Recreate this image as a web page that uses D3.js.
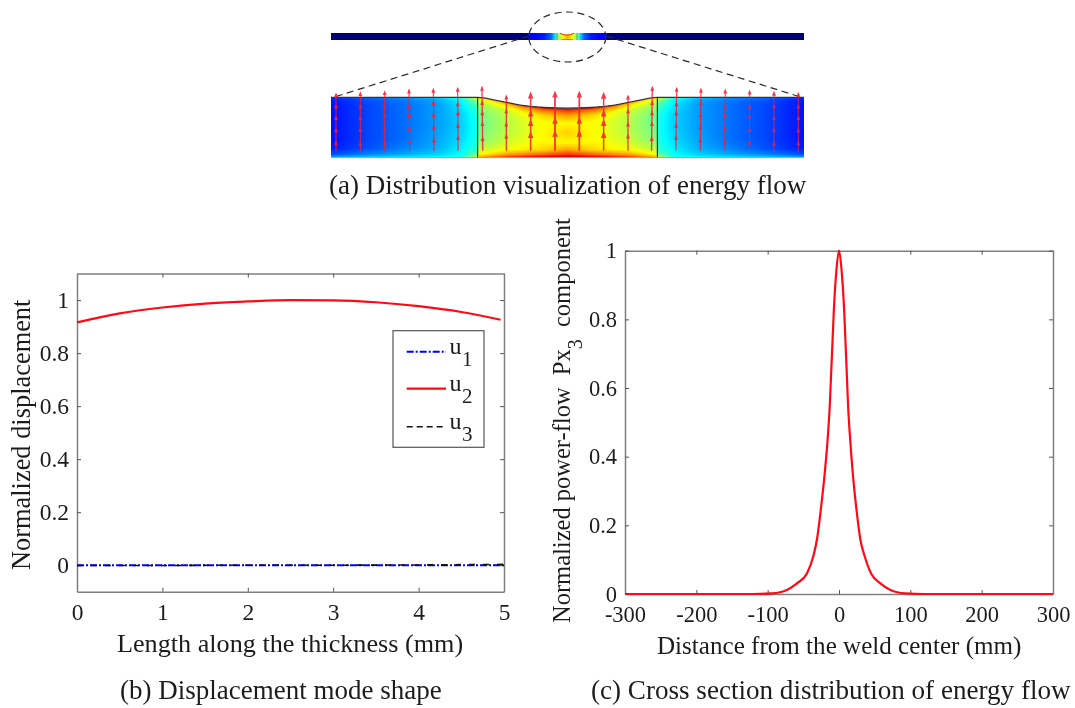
<!DOCTYPE html>
<html><head><meta charset="utf-8">
<script src="https://cdnjs.cloudflare.com/ajax/libs/d3/7.8.5/d3.min.js"></script>
<style>
html,body{margin:0;padding:0;background:#fff;overflow:hidden}
svg{display:block;filter:blur(0.45px)}
text{font-family:"Liberation Serif","Times New Roman",serif;fill:#1c1c1c;white-space:pre}
</style></head><body>
<svg id="c" width="1075" height="708"></svg>
<script>
// ---------- panel (a) data ----------
const captionA = "(a) Distribution visualization of energy flow";
const captionB = "(b) Displacement mode shape";
const captionC = "(c) Cross section distribution of energy flow";
// along-plate position of field columns (-1 .. 1) and thickness rows (1 = top, 0 = bottom)
const fieldCols = [-1,-0.85,-0.7,-0.55,-0.45,-0.385,-0.375,-0.25,-0.12,0,0.12,0.25,0.375,0.385,0.45,0.55,0.7,0.85,1];
const fieldRows = [1,0.95,0.85,0.7,0.5,0.3,0.15,0.05,0];
const fieldVals = [
 [.17,.15,.14,.14,.14,.14,.15,.20,.30],
 [.23,.20,.19,.19,.19,.19,.20,.25,.34],
 [.27,.24,.23,.23,.23,.23,.25,.29,.36],
 [.33,.29,.28,.28,.28,.29,.30,.33,.38],
 [.42,.37,.35,.33,.33,.34,.36,.38,.42],
 [.62,.50,.44,.40,.39,.40,.42,.46,.58],
 [.65,.58,.52,.48,.48,.50,.55,.62,.72],
 [.74,.66,.58,.56,.56,.58,.62,.72,.85],
 [.88,.76,.66,.62,.62,.63,.66,.78,.92],
 [.96,.82,.72,.63,.67,.63,.72,.84,.96],
 [.88,.76,.66,.62,.62,.63,.66,.78,.92],
 [.74,.66,.58,.56,.56,.58,.62,.72,.85],
 [.65,.58,.52,.48,.48,.50,.55,.62,.72],
 [.62,.50,.44,.40,.39,.40,.42,.46,.58],
 [.42,.37,.35,.33,.33,.34,.36,.38,.42],
 [.33,.29,.28,.28,.28,.29,.30,.33,.38],
 [.27,.24,.23,.23,.23,.23,.25,.29,.36],
 [.23,.20,.19,.19,.19,.19,.20,.25,.34],
 [.17,.15,.14,.14,.14,.14,.15,.20,.30]];
const surfaceU = [-1,-0.38,-0.29,-0.2,-0.1,0,0.1,0.2,0.29,0.38,1];
const surfaceT = [1,1,0.94,0.87,0.83,0.82,0.83,0.87,0.94,1,1];
const weldEdges = [-0.38,0.38];
const arrowIdx  = d3.range(20);
const arrowTop  = [1.056,1.078,1.094,1.122,1.133,1.15,1.167,1.022,1.05,1.067,1.067,1.044,1.022,1.167,1.15,1.133,1.122,1.106,1.083,1.067];
const arrowBase = [.094,.094,.094,.105,.105,.11,.11,.11,.11,.11,.11,.11,.11,.11,.11,.11,.11,.094,.094,.094];
const arrowLean = [0,0,0,.03,.03,.02,.03,0,0,0,0,0,0,-.03,-.03,-.03,-.02,-.01,0,0];
const arrowWide = [1,1,1,1.1,1.1,1.1,1.3,1.3,1.5,1.8,1.8,1.5,1.3,1.3,1.1,1.1,1,1,1,1];
const arrowHeads = [
 [.84,.65,.44,.23],[.84,.65,.45,.22],[.84,.68,.45,.24],[.84,.7,.47,.25],[.9,.7,.49,.27],[.88,.73,.52,.32],
 [.9,.73,.55,.3],[.76,.54,.34],[.72,.56,.36],[.6,.38],[.6,.38],[.72,.56,.36],[.76,.54,.34],[.9,.73,.55,.3],
 [.88,.73,.52,.32],[.9,.7,.49,.27],[.84,.7,.47,.25],[.84,.68,.45,.24],[.84,.65,.45,.22],[.84,.65,.44,.23]];
// thin overview strip
const stripU = [0,.415,.418,.43,.45,.465,.475,.478,.49,.5,.51,.522,.525,.535,.55,.57,.582,.585,1];
const stripV = [0,0,.1,.125,.15,.22,.37,.5,.62,.7,.62,.5,.37,.22,.15,.125,.1,0,0];

// ---------- panel (b) data ----------
const thickX = [0,.5,1,1.5,2,2.5,3,3.5,4,4.5,4.96];
const u2Vals = [.916,.95,.972,.987,.995,1,.999,.992,.977,.955,.926];
const thinX  = [0,1,2,3,4,4.5,5];
const u1Vals = [0,0,0,0,0,0,0];
const u3Vals = [-.001,-.001,0,0,.001,.002,.003];
const legendNames = ["u","u","u"];
const legendSubs  = ["1","2","3"];
const bXTicks = [0,1,2,3,4,5];
const bYTicks = [0,.2,.4,.6,.8,1];

// ---------- panel (c) data ----------
const distX = [-300,-200,-120,-94,-73,-59,-45,-36,-31,-25,-20,-16,-13,-11,-9,-7,-4,0,4,7,9,10.9,12.8,15.7,19.3,24,30,36,45,58,72,93,120,200,300];
const flowY = [0,0,0,.002,.012,.031,.06,.11,.158,.255,.352,.449,.546,.643,.74,.837,.934,1,.934,.837,.74,.643,.546,.449,.352,.255,.158,.11,.06,.031,.012,.002,0,0,0];
const cXTicks = [-300,-200,-100,0,100,200,300];
const cYTicks = [0,.2,.4,.6,.8,1];

// ---------- drawing ----------
const svg = d3.select("#c");
const RED="#ff0a14", FRAME="#7f7f7f";
const jet = d3.scaleLinear().domain([0,.125,.375,.625,.875,1])
  .range(["#000078","#0000ff","#00ffff","#ffff00","#ff0000","#800000"]).clamp(true);

function caption(s,x,y,size){ svg.append("text").attr("x",x).attr("y",y).attr("font-size",size).text(s); }

// panel a
const px = d3.scaleLinear().domain([-1,1]).range([331,804]);
const pt = d3.scaleLinear().domain([0,1]).range([157.3,97.3]);
const surf = d3.scaleLinear().domain(surfaceU).range(surfaceT);

const defs = svg.append("defs");
const grad = defs.append("linearGradient").attr("id","stripGrad");
stripU.forEach((u,i)=>grad.append("stop").attr("offset",u).attr("stop-color",jet(stripV[i])));
const sx = d3.scaleLinear().domain([0,1]).range([331,804]);
svg.append("rect").attr("x",sx(0)).attr("y",33).attr("width",sx(1)-sx(0)).attr("height",7)
  .attr("fill","url(#stripGrad)");
svg.append("path").attr("d","M561,33 Q567,36 573,33 Z").attr("fill","#fff");
svg.append("path").attr("d","M560,33.3 Q567,37 574,33.3").attr("fill","none").attr("stroke","#e83010").attr("stroke-width",1);
svg.append("path").attr("d","M561,39.6 H573").attr("stroke","#f05010").attr("stroke-width",.8);
[557,577].forEach(x=>svg.append("line").attr("x1",x).attr("x2",x).attr("y1",33).attr("y2",40).attr("stroke","#3c7c6c").attr("stroke-width",.7));

// dashed zoom guide
const dash="7,4.5";
svg.append("ellipse").attr("cx",567.3).attr("cy",37).attr("rx",38.5).attr("ry",25)
  .attr("fill","none").attr("stroke","#2a2a2a").attr("stroke-width",1.2).attr("stroke-dasharray",dash);
[[529,36,336,96.5],[606,36,799,96.5]].forEach(d=>svg.append("line").attr("x1",d[0]).attr("y1",d[1]).attr("x2",d[2]).attr("y2",d[3])
  .attr("stroke","#2a2a2a").attr("stroke-width",1.2).attr("stroke-dasharray",dash));

// field image
(function(){
  const W=473,H=60,c=document.createElement("canvas"); c.width=W;c.height=H;
  const ctx=c.getContext("2d"),img=ctx.createImageData(W,H);
  const colIdx=d3.scaleLinear().domain(fieldCols).range(d3.range(fieldCols.length)).clamp(true);
  const rowIdx=d3.scaleLinear().domain(fieldRows).range(d3.range(fieldRows.length)).clamp(true);
  for(let j=0;j<H;j++)for(let i=0;i<W;i++){
    const u=-1+2*(i+.5)/W, yT=1-(j+.5)/H, top=surf(u);
    const k=(i+j*W)*4;
    if(yT>top){img.data[k+3]=0;continue;}
    const t=yT/top, ci=colIdx(u), ri=rowIdx(t);
    const c0=Math.min(Math.floor(ci),fieldCols.length-2), r0=Math.min(Math.floor(ri),fieldRows.length-2);
    const fc=ci-c0, fr=ri-r0;
    const v=(fieldVals[c0][r0]*(1-fr)+fieldVals[c0][r0+1]*fr)*(1-fc)+(fieldVals[c0+1][r0]*(1-fr)+fieldVals[c0+1][r0+1]*fr)*fc;
    const col=d3.rgb(jet(v));
    img.data[k]=col.r;img.data[k+1]=col.g;img.data[k+2]=col.b;img.data[k+3]=255;
  }
  ctx.putImageData(img,0,0);
  svg.append("image").attr("x",331).attr("y",97.3).attr("width",W).attr("height",H).attr("href",c.toDataURL());
})();
const surfLine=d3.line().x(d=>px(d)).y((d,i)=>pt(surfaceT[i])).curve(d3.curveMonotoneX);
svg.append("path").attr("d",surfLine(surfaceU)).attr("fill","none").attr("stroke","#3a3230").attr("stroke-width",1.3);
svg.append("line").attr("x1",331).attr("x2",804).attr("y1",157.6).attr("y2",157.6).attr("stroke","#9aa0a0").attr("stroke-width",1);
weldEdges.forEach(u=>svg.append("line").attr("x1",px(u)).attr("x2",px(u)).attr("y1",pt(0)).attr("y2",pt(1)).attr("stroke","#222").attr("stroke-width",1.1));

// arrows
const ax = d3.scaleLinear().domain([0,19]).range([336,798.3]);
const arrows = svg.append("g").attr("fill","#f81c34").attr("stroke","none").attr("opacity",.88);
arrowIdx.forEach(i=>{
  const xAt=t=>ax(i+arrowLean[i]*(1-(t-arrowBase[i])/(arrowTop[i]-arrowBase[i])));
  arrows.append("line").attr("x1",xAt(arrowBase[i])).attr("y1",pt(arrowBase[i]))
    .attr("x2",xAt(arrowTop[i])).attr("y2",pt(arrowTop[i]))
    .attr("stroke","#f81c34").attr("stroke-width",arrowWide[i]);
  const sz=arrowWide[i]>1.4?18:9;
  [arrowTop[i]-.03].concat(arrowHeads[i]).forEach(t=>{
    arrows.append("path").attr("d",d3.symbol(d3.symbolTriangle,sz)())
      .attr("transform",`translate(${xAt(t)},${pt(t)}) scale(.85,1.25)`);
  });
});
caption(captionA,329,194,27);

// frames
function frame(x,y,xt,yt,pad,size){
  const [x0,x1]=x.range(),[y0,y1]=y.range();
  const fmt=d=>String(d);
  const mk=(axis,tx,ty,labels)=>{
    const g=svg.append("g").attr("transform",`translate(${tx},${ty})`).call(axis);
    g.selectAll(".domain").attr("stroke",FRAME).attr("stroke-width",1.5);
    g.selectAll(".tick line").attr("stroke","#555").attr("stroke-width",1);
    g.selectAll("text").attr("font-size",size);
    if(!labels) g.selectAll("text").remove();
    g.attr("font-family",null).attr("font-size",null);
  };
  mk(d3.axisBottom(x).tickValues(xt).tickFormat(fmt).tickSizeInner(-4).tickSizeOuter(0).tickPadding(pad.x),0,y0,true);
  mk(d3.axisTop(x).tickValues(xt).tickSizeInner(-4).tickSizeOuter(0),0,y1,false);
  mk(d3.axisLeft(y).tickValues(yt).tickFormat(fmt).tickSizeInner(-4).tickSizeOuter(0).tickPadding(pad.y),x0,0,true);
  mk(d3.axisRight(y).tickValues(yt).tickSizeInner(-4).tickSizeOuter(0),x1,0,false);
}

// panel b
const bx=d3.scaleLinear().domain([0,5]).range([77,504]);
const by=d3.scaleLinear().domain([-.1,1.1]).range([591.7,273.6]);
frame(bx,by,bXTicks,bYTicks,{x:12,y:8},23.5);
const lineB=(xs)=>d3.line().x((d,i)=>bx(xs[i])).y(d=>by(d)).curve(d3.curveMonotoneX);
svg.append("path").attr("d",lineB(thinX)(u1Vals)).attr("fill","none").attr("stroke","#0000ff").attr("stroke-width",2).attr("stroke-dasharray","7,2,2,2");
svg.append("path").attr("d",lineB(thickX)(u2Vals)).attr("fill","none").attr("stroke",RED).attr("stroke-width",2.2);
svg.append("path").attr("d",lineB(thinX)(u3Vals)).attr("fill","none").attr("stroke","#111").attr("stroke-width",1.6).attr("stroke-dasharray","6,8");

// legend
svg.append("rect").attr("x",393).attr("y",330.7).attr("width",91).attr("height",116.6).attr("fill","#fff").attr("stroke","#555").attr("stroke-width",1.2);
const legY=[351.7,388.7,426.7], legStyle=[["#0000ff","7,2,2,2",2],[RED,null,2.2],["#111","6,4",1.6]];
legendNames.forEach((n,i)=>{
  svg.append("line").attr("x1",406.7).attr("x2",446).attr("y1",legY[i]).attr("y2",legY[i])
    .attr("stroke",legStyle[i][0]).attr("stroke-width",legStyle[i][2]).attr("stroke-dasharray",legStyle[i][1]);
  const t=svg.append("text").attr("x",449.5).attr("y",legY[i]+2.5).attr("font-size",24);
  t.append("tspan").text(n);
  t.append("tspan").attr("dy",12).attr("dx",.5).attr("font-size",21).text(legendSubs[i]);
});
svg.append("text").attr("x",117).attr("y",651.5).attr("font-size",26.2).text("Length along the thickness (mm)");
svg.append("text").attr("transform","translate(30,570) rotate(-90)").attr("font-size",26.4).text("Normalized displacement");
caption(captionB,120,699,27);

// panel c
const cx=d3.scaleLinear().domain([-300,300]).range([625,1053]);
const cy=d3.scaleLinear().domain([0,1]).range([594,250.7]);
frame(cx,cy,cXTicks,cYTicks,{x:12,y:8},22.5);
svg.append("path").attr("d",d3.line().x((d,i)=>cx(distX[i])).y(d=>cy(d)).curve(d3.curveMonotoneX)(flowY)).attr("fill","none").attr("stroke",RED).attr("stroke-width",2.2);
svg.append("text").attr("x",657).attr("y",654).attr("font-size",25.1).text("Distance from the weld center (mm)");
const yl=svg.append("text").attr("transform","translate(570,623) rotate(-90)").attr("font-size",24.5);
yl.append("tspan").text("Normalized power-flow  Px");
yl.append("tspan").attr("dy",12).attr("font-size",20).text("3");
yl.append("tspan").attr("dy",-12).text("  component");
caption(captionC,591,699,27.1);
</script>
</body></html>
